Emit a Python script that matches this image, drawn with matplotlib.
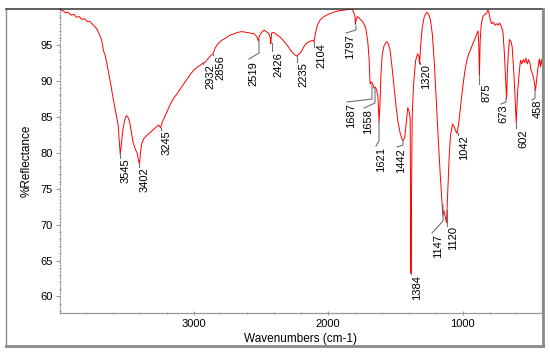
import matplotlib
matplotlib.use("Agg")
import matplotlib.pyplot as plt
from matplotlib.lines import Line2D
import numpy as np

plt.rcParams['font.family'] = ['Liberation Sans', 'DejaVu Sans']

# Spectrum (wavenumber, %Reflectance)
wavenumber = [3993, 3970, 3950, 3935, 3910, 3890, 3870, 3850, 3830, 3810, 3790, 3770, 3750, 3735,
              3720, 3700, 3690, 3680, 3670, 3660, 3645, 3630, 3615, 3600, 3585, 3570, 3560, 3553,
              3545, 3538, 3525, 3512, 3500, 3488, 3475, 3462, 3450, 3435, 3420, 3410, 3402, 3395,
              3385, 3370, 3350, 3320, 3290, 3260, 3245, 3235, 3210, 3180, 3150, 3120, 3100, 3060,
              3030, 3000, 2970, 2950, 2932, 2915, 2890, 2870, 2856, 2840, 2820, 2790, 2760, 2730,
              2700, 2670, 2640, 2610, 2580, 2550, 2530, 2519, 2510, 2495, 2475, 2460, 2440, 2430,
              2426, 2420, 2405, 2385, 2360, 2330, 2300, 2275, 2250, 2235, 2220, 2200, 2180, 2160,
              2140, 2115, 2104, 2095, 2080, 2060, 2030, 2000, 1960, 1920, 1880, 1840, 1820, 1810,
              1800, 1797, 1790, 1780, 1760, 1740, 1720, 1705, 1695, 1690, 1687, 1680, 1670, 1662,
              1658, 1650, 1640, 1630, 1621, 1614, 1607, 1598, 1585, 1565, 1555, 1540, 1525, 1510,
              1495, 1480, 1465, 1450, 1442, 1430, 1418, 1408, 1398, 1390, 1386, 1384, 1381, 1375,
              1365, 1350, 1335, 1325, 1320, 1312, 1300, 1285, 1268, 1255, 1240, 1225, 1210, 1195,
              1180, 1165, 1155, 1147, 1140, 1130, 1120, 1112, 1100, 1090, 1075, 1062, 1050, 1042,
              1030, 1015, 1000, 985, 970, 955, 940, 925, 910, 895, 885, 880, 875, 870, 862, 850,
              835, 820, 812, 805, 795, 785, 770, 760, 745, 735, 725, 710, 700, 690, 680, 673, 668,
              660, 652, 640, 632, 622, 612, 602, 596, 590, 580, 570, 560, 550, 540, 530, 520, 510,
              500, 490, 480, 470, 458, 450, 440, 430, 422, 415, 410]
reflectance = [99.9, 99.8, 99.5, 99.6, 99.2, 99.3, 98.9, 99.0, 98.6, 98.7, 98.3, 98.3, 97.9, 97.6,
               97.3, 96.5, 96.1, 95.4, 94.2, 93.8, 92.5, 91.0, 89.5, 87.8, 86.3, 84.8, 83.8, 81.8,
               79.8, 81.0, 83.3, 84.6, 85.2, 85.0, 84.3, 82.8, 81.5, 80.6, 80.0, 79.0, 78.4, 80.0,
               81.3, 82.0, 82.4, 82.9, 83.4, 83.9, 83.5, 84.2, 85.2, 86.5, 87.6, 88.3, 88.9, 90.0,
               90.8, 91.5, 92.0, 92.2, 92.5, 92.6, 93.2, 93.6, 93.8, 94.6, 95.2, 95.7, 96.0, 96.4,
               96.6, 96.8, 96.9, 96.8, 96.7, 96.6, 96.2, 95.6, 96.3, 96.8, 97.1, 96.9, 96.6, 96.0,
               95.2, 96.7, 96.8, 96.5, 96.2, 95.6, 94.9, 94.2, 93.7, 93.5, 93.7, 94.1, 94.8, 95.3,
               95.5, 95.7, 95.5, 96.6, 97.8, 98.5, 99.0, 99.3, 99.6, 99.8, 99.9, 100.0, 100.0, 99.6,
               99.0, 97.9, 98.7, 99.0, 98.6, 98.2, 97.4, 95.5, 93.0, 90.5, 89.6, 89.9, 89.7, 89.3,
               89.0, 89.2, 88.8, 88.0, 84.3, 87.0, 91.0, 93.6, 94.9, 95.5, 95.3, 94.4, 92.0, 89.3,
               86.5, 84.3, 82.8, 81.9, 81.7, 82.2, 84.5, 86.3, 85.8, 84.8, 70.0, 63.2, 72.0, 85.0,
               89.5, 92.8, 93.8, 93.5, 92.4, 95.0, 97.5, 99.0, 99.6, 99.4, 98.6, 96.5, 92.5, 87.0,
               81.5, 76.5, 73.5, 71.3, 72.0, 71.2, 70.3, 74.0, 79.5, 82.5, 84.0, 83.6, 83.0, 82.7,
               84.0, 86.5, 89.0, 91.2, 92.8, 93.8, 94.4, 95.2, 95.8, 96.6, 97.0, 95.0, 90.7, 95.5, 97.8, 99.0,
               99.3, 99.5, 99.9, 99.6, 98.6, 98.0, 98.2, 97.8, 98.0, 97.8, 98.1, 97.5, 96.8, 94.0, 90.0, 87.6, 91.0,
               94.0, 95.8, 95.5, 94.8, 92.0, 88.5, 84.2, 86.5, 88.8, 91.0, 92.9, 92.4, 93.0, 92.6, 93.2, 92.4, 93.0,
               92.5, 91.4, 91.0, 90.2, 88.7, 90.2, 91.8, 93.1, 92.0, 93.0, 92.3]

# Peak labels: wavenumber of the labelled peak
peak_labels = ["3545", "3402", "3245", "2932", "2856", "2519", "2426", "2235", "2104", "1797",
               "1687", "1658", "1621", "1442", "1384", "1320", "1147", "1120", "1042", "875",
               "673", "602", "458"]

W, H = 550, 355
fig = plt.figure(figsize=(W / 100, H / 100), dpi=100)
fig.patch.set_facecolor('white')

L, R, T, B = 60, 542, 9, 313
ax = fig.add_axes([L / W, 1 - B / H, (R - L) / W, (B - T) / H])

ax.plot(wavenumber, reflectance, color='#ff0000', lw=0.7)
ax.set_xlim(3993, 410)
ax.set_ylim(57.7, 100.05)

ax.set_xticks([3000, 2000, 1000])
ax.set_xticks(np.arange(3800, 400, -200), minor=True)
ax.set_yticks([60, 65, 70, 75, 80, 85, 90, 95])
ax.set_yticks(np.arange(58, 100, 1), minor=True)
ax.tick_params(axis='both', which='major', labelsize=8, colors='#9a9a9a', labelcolor='black', length=3,
               width=0.8)
ax.tick_params(axis='x', which='both', direction='inout', pad=3)
ax.tick_params(axis='y', which='major', direction='out', pad=2)
ax.tick_params(axis='both', which='minor', length=2, width=0.7, colors='#9a9a9a', direction='inout')
ax.set_xlabel('Wavenumbers (cm-1)', fontsize=8.5, labelpad=3)
ax.set_ylabel('%Reflectance', fontsize=8.5, labelpad=6)

ax.spines['top'].set_color('#333333')
ax.spines['right'].set_color('#9a9a9a')
ax.spines['left'].set_color('#9a9a9a')
ax.spines['left'].set_linestyle((0, (1, 1.5)))
ax.spines['bottom'].set_color('#9a9a9a')
for s in ax.spines.values():
    s.set_linewidth(0.9)
ax.spines['top'].set_linewidth(1.1)

# pixel helpers for leader layout
def px2data(x, y):
    xd, yd = ax.transData.inverted().transform(fig.transFigure.transform((x / W, 1 - y / H)))
    return xd, yd

# leader layouts in pixels: (leader path points, text center x, text top y)
layouts = {
    "3545": ([(120, 153), (120, 158)], 126, 158),
    "3402": ([(139, 163), (139, 167)], 145, 167),
    "3245": ([(161, 128), (161, 130)], 167, 130),
    "2932": ([(203, 62), (203, 64)], 210, 64),
    "2856": ([(213, 54), (213, 55)], 220, 55),
    "2519": ([(259, 40), (259, 53), (249, 59)], 253, 61),
    "2426": ([(272, 43), (272, 51)], 278, 52),
    "2235": ([(297, 56), (297, 62)], 303, 62),
    "2104": ([(314, 42), (314, 47)], 321, 43),
    "1797": ([(356, 26), (356, 30), (346, 33)], 350, 34),
    "1687": ([(372, 84), (372, 99), (347, 102)], 351, 103),
    "1658": ([(375, 88), (375, 103), (364, 108)], 368, 109),
    "1621": ([(379, 122), (379, 141), (376, 146)], 381, 147),
    "1442": ([(403, 140), (403, 145), (397, 147)], 401, 148),
    "1384": ([(411, 273), (411, 274)], 417, 275),
    "1320": ([(420, 62), (420, 64)], 426, 64),
    "1147": ([(443, 205), (443, 221), (432, 233)], 438, 234),
    "1120": ([(447, 210), (447, 226)], 453, 226),
    "1042": ([(458, 133), (458, 135)], 464, 135),
    "875": ([(479, 77), (479, 84)], 486, 84),
    "673": ([(506, 98), (506, 102), (501, 104)], 503, 104),
    "602": ([(516, 123), (516, 128)], 523, 129),
    "458": ([(535, 88), (535, 98), (532, 100)], 538, 100),
}

for lab in peak_labels:
    pts, tx, ty = layouts[lab]
    dpts = [px2data(x, y) for x, y in pts]
    ax.plot([p[0] for p in dpts], [p[1] for p in dpts], color='#707070', lw=0.8, clip_on=False)
    txd, tyd = px2data(tx, ty)
    ax.text(txd, tyd, lab, rotation=90, ha='center', va='top', fontsize=8, color='black')

# outer frame
fig.add_artist(Line2D([6 / W, 6 / W], [1 - 9 / H, 1 - 346 / H], color='#8a8a8a', lw=1.0))
fig.add_artist(Line2D([6 / W, 60 / W], [1 - 9 / H, 1 - 9 / H], color='#333333', lw=1.1))
fig.add_artist(Line2D([6 / W, 543 / W], [1 - 346 / H, 1 - 346 / H], color='#8a8a8a', lw=2.0))
fig.add_artist(Line2D([543 / W, 543 / W], [1 - 9 / H, 1 - 346 / H], color='#8a8a8a', lw=2.0))

fig.savefig('out.png', dpi=100)
